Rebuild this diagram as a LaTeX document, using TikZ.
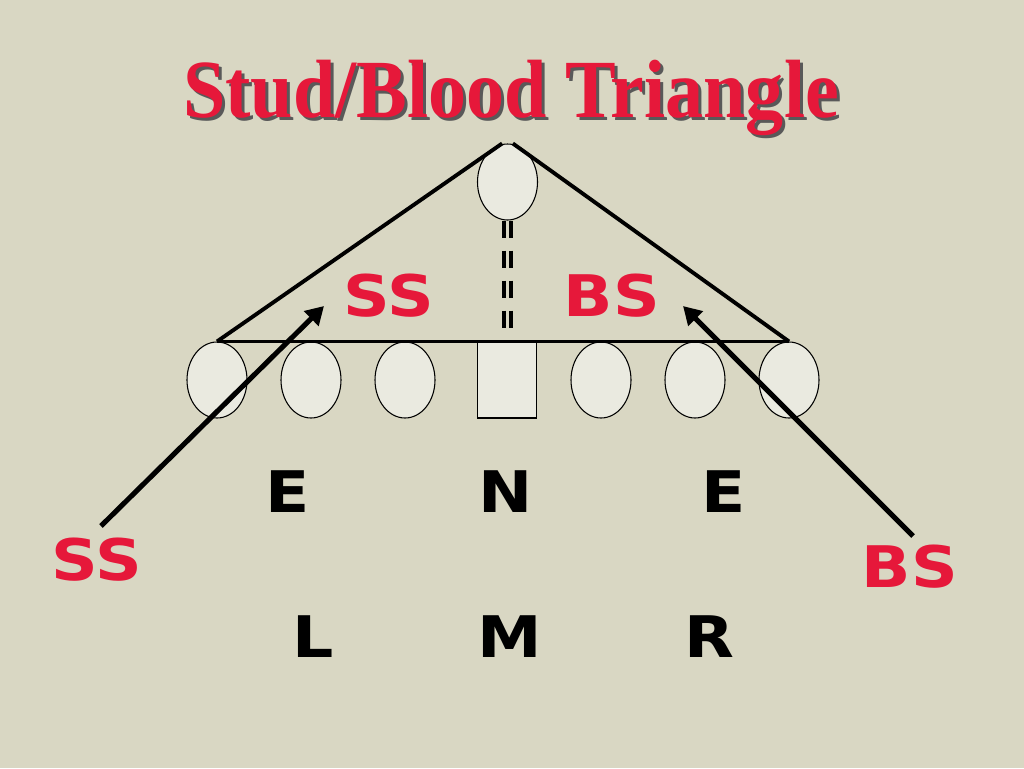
\documentclass[tikz,border=0pt]{standalone}
\usepackage{fontspec}
\setmainfont{Liberation Serif}
\newfontfamily\lblfont{DejaVu Sans}
\usetikzlibrary{arrows.meta,shapes,positioning,calc}
\definecolor{bgtan}{RGB}{217,215,195}
\definecolor{plyfill}{RGB}{234,234,224}
\definecolor{tred}{RGB}{230,24,58}

\begin{document}
\begin{tikzpicture}[x=0.75pt,y=-0.75pt,
  ply/.style={draw,ellipse,line width=0.8pt,fill=plyfill,inner sep=0pt,minimum width=45pt,minimum height=57pt},
  ctr/.style={draw,rectangle,line width=0.8pt,fill=plyfill,inner sep=0pt,minimum width=44pt,minimum height=57pt},
  poslbl/.style={anchor=base,inner sep=0pt,xscale=1.13,font=\lblfont\fontsize{43}{48}\selectfont\bfseries},
  redlbl/.style={poslbl,text=tred},
  tri/.style={line width=2.9pt},
  dbl/.style={line width=3pt,dash pattern=on 12.75pt off 9.75pt},
  blitz/.style={line width=3.8pt,-{Triangle[length=13.5pt,width=15pt]}}]
\fill[bgtan] (0,0) rectangle (1024,768);
\useasboundingbox (0,0) rectangle (1024,768);
% title
\node[anchor=base,text=black!65,xscale=0.92,font=\fontsize{62}{70}\selectfont\bfseries] (titleshadow) at (514,120) {Stud/Blood Triangle};
\node[anchor=base,text=tred,xscale=0.92,font=\fontsize{62}{70}\selectfont\bfseries] (title) at (511,117) {Stud/Blood Triangle};
% front
\node[ply] (lt) at (217,380) {};
\node[ply] (lg) at (311,380) {};
\node[ply] (lg2) at (405,380) {};
\node[ctr] (c) at (507,380) {};
\node[ply] (rg2) at (601,380) {};
\node[ply] (rg) at (695,380) {};
\node[ply] (rt) at (789,380) {};
\node[ply] (mlb) at (507.5,182) {};
% triangle
\draw[tri] (lt.north) -- (rt.north);
\draw[tri] (lt.north) -- ([xshift=-4pt]mlb.north);
\draw[tri] (rt.north) -- ([xshift=4pt]mlb.north);
\coordinate (dashend) at (507.5,328);
\draw[dbl] ([xshift=-2.6pt]mlb.south) -- ([xshift=-2.6pt]dashend);
\draw[dbl] ([xshift=2.6pt]mlb.south) -- ([xshift=2.6pt]dashend);
% labels
\node[redlbl] (ssin) at (389,316) {SS};
\node[redlbl] (bsin) at (612,316) {BS};
\node[redlbl] (ssout) at (97,580) {SS};
\node[redlbl] (bsout) at (910,587) {BS};
\node[poslbl] (el) at (288,512) {E};
\node[poslbl] (n) at (506,512) {N};
\node[poslbl] (er) at (724,512) {E};
\node[poslbl] (l) at (313,657) {L};
\node[poslbl] (m) at (510,657) {M};
\node[poslbl] (r) at (709,657) {R};
% arrows
\coordinate (sstail) at (101,526);
\coordinate (sstip) at (324,306);
\coordinate (bstail) at (913,536);
\coordinate (bstip) at (683,306);
\draw[blitz] (sstail) -- (sstip);
\draw[blitz] (bstail) -- (bstip);
\end{tikzpicture}
\end{document}
